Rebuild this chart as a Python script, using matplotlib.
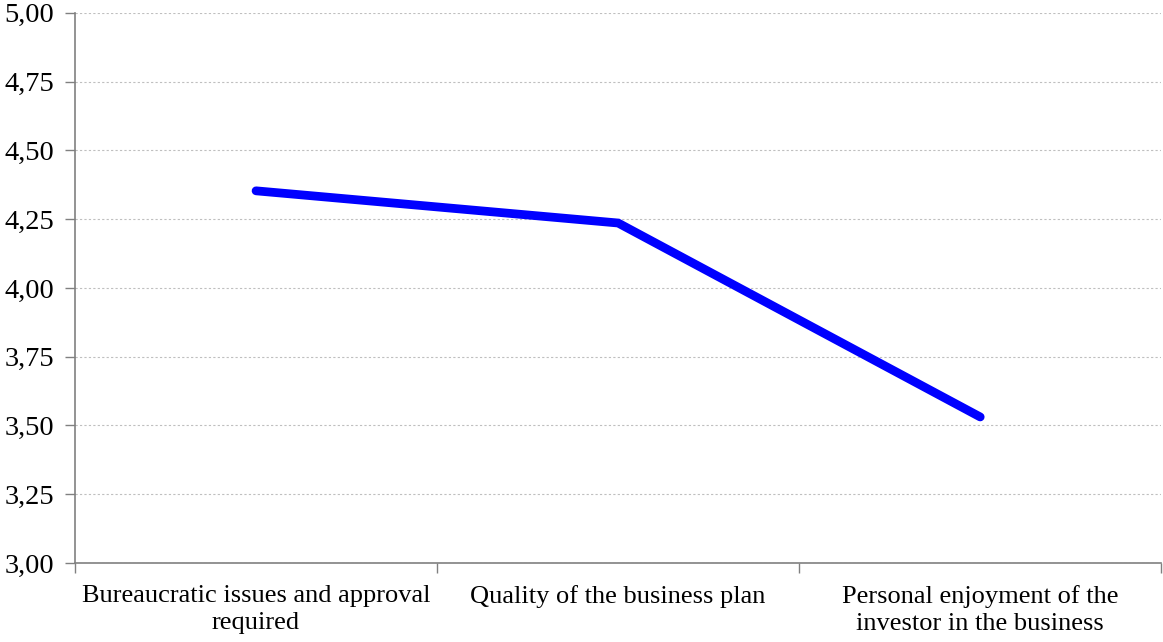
import matplotlib.pyplot as plt
from matplotlib.ticker import FuncFormatter, FixedLocator

categories = ["Bureaucratic issues and approval\nrequired",
              "Quality of the business plan",
              "Personal enjoyment of the\ninvestor in the business"]
scores = [4.353, 4.236, 3.531]

plt.rcParams['font.family'] = ['Liberation Serif', 'DejaVu Serif']

fig = plt.figure(figsize=(11.63, 6.42), dpi=100, facecolor='white')
ax = fig.add_axes([0.0645, 0.123, 0.934, 0.857])

x = list(range(len(categories)))
ax.plot(x, scores, color='#0000ff', linewidth=6.3, solid_capstyle='round', solid_joinstyle='miter')

ax.set_xlim(-0.5, len(categories) - 0.5)
ax.set_ylim(3.0, 5.0)
ax.set_yticks([3.0 + 0.25 * i for i in range(9)])
ax.yaxis.set_major_formatter(FuncFormatter(lambda v, p: f"{v:.2f}".replace('.', ',')))

# category labels sit between the boundary ticks
ax.xaxis.set_major_locator(FixedLocator([i - 0.5 for i in range(len(categories) + 1)]))
ax.xaxis.set_major_formatter(FuncFormatter(lambda v, p: ''))
ax.xaxis.set_minor_locator(FixedLocator(x))
ax.set_xticklabels(categories, minor=True, linespacing=1.3)
ax.tick_params(axis='x', which='minor', length=0, pad=16, labelsize=19)
ax.tick_params(axis='x', which='major', length=7, color='#808080', width=1)
ax.tick_params(axis='y', length=7, color='#808080', width=1, labelsize=20.5, pad=8)

for side in ['top', 'right']:
    ax.spines[side].set_visible(False)
for side in ['left', 'bottom']:
    ax.spines[side].set_color('#808080')
    ax.spines[side].set_linewidth(1.2)

ax.yaxis.grid(True, linestyle=(0, (2, 2)), color='#bfbfbf', linewidth=0.8)
ax.set_axisbelow(True)

fig.savefig('out.png', dpi=100)
